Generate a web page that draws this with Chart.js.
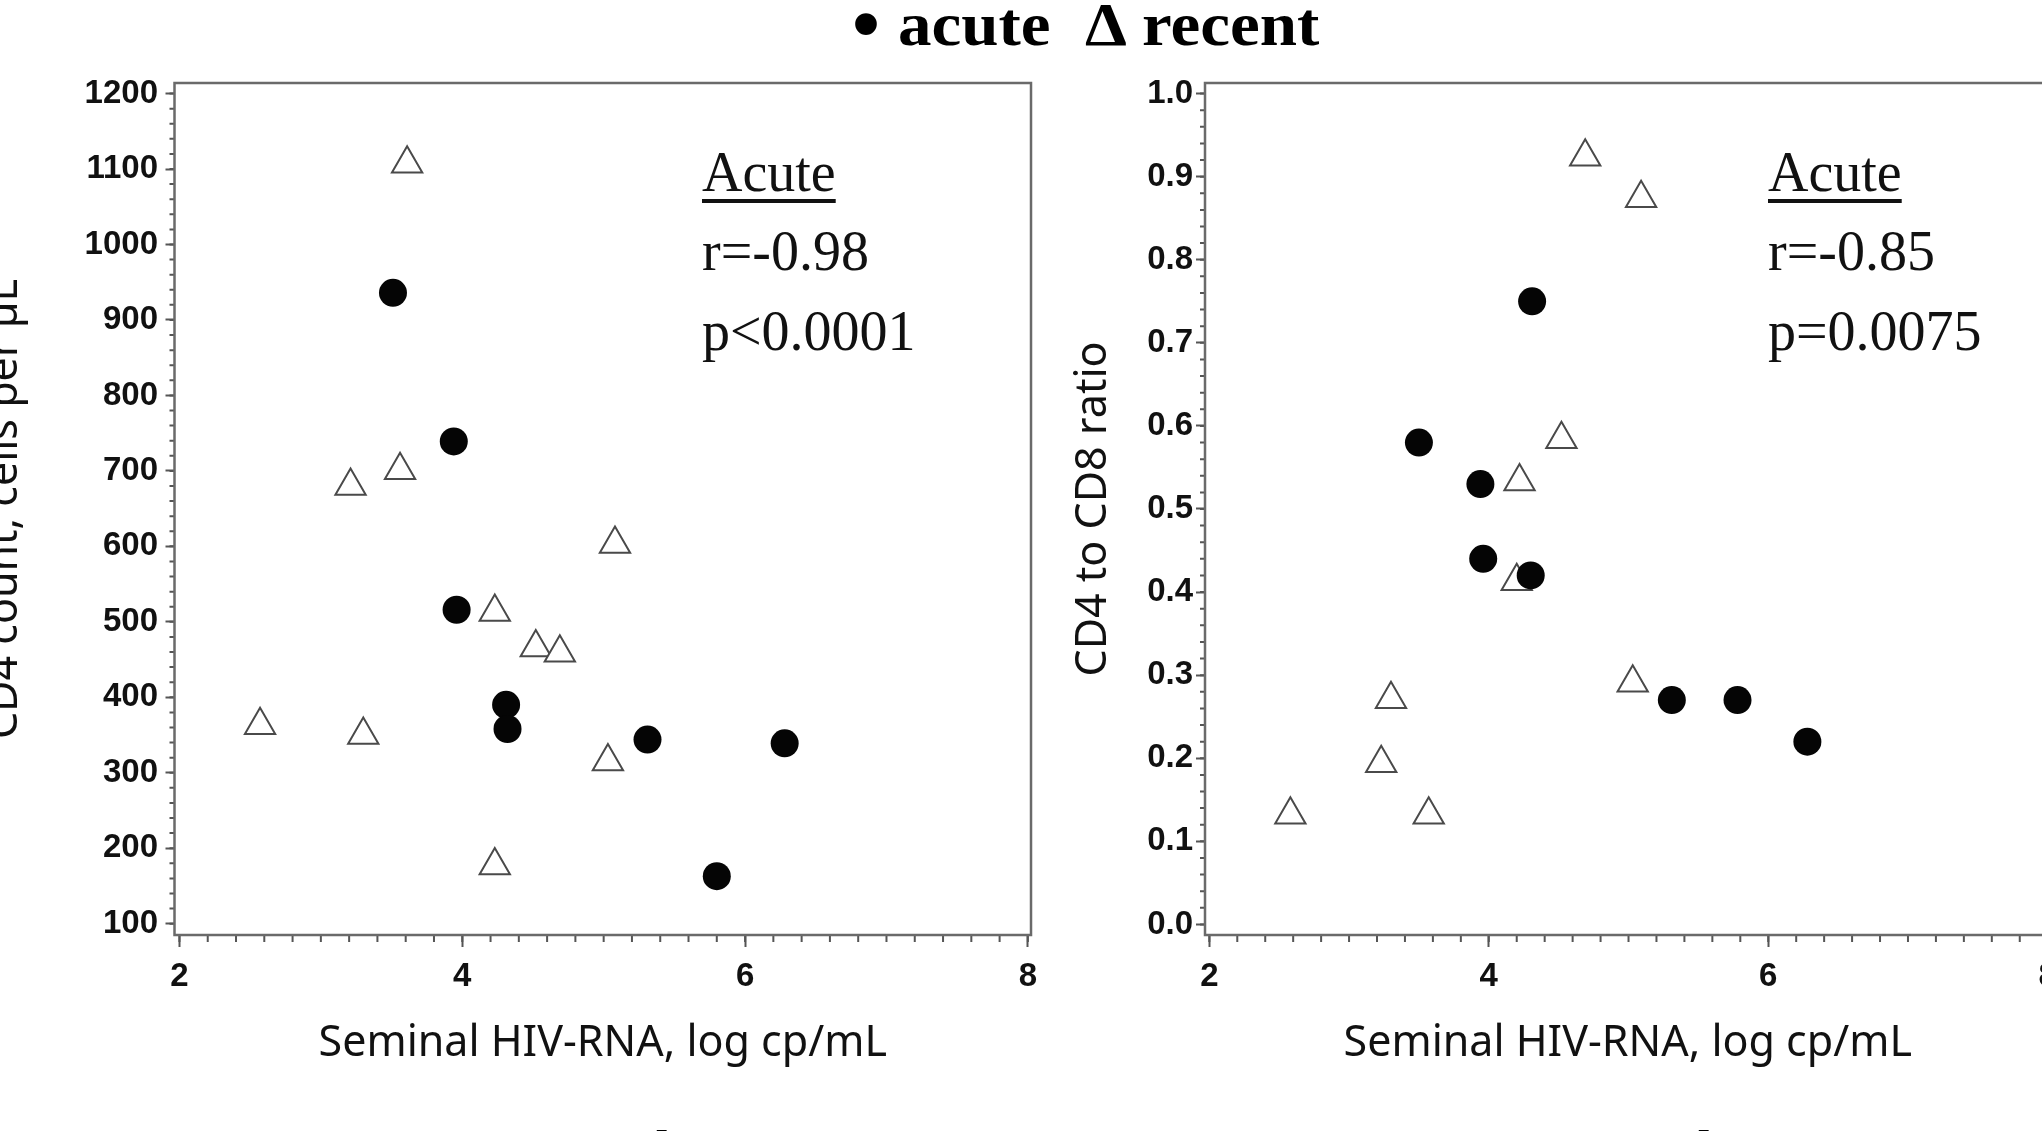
<!DOCTYPE html>
<html>
<head>
<meta charset="utf-8">
<script src="https://cdn.jsdelivr.net/npm/chart.js@4.4.1/dist/chart.umd.min.js"></script>
<style>
  html, body { margin: 0; padding: 0; background: #fff; overflow: hidden; }
  body { width: 2042px; height: 1131px; position: relative; }
  canvas { position: absolute; top: 0; }
  #cd4Chart { left: -17px; }
  #ratioChart { left: 1072px; }
</style>
</head>
<body>
<canvas id="cd4Chart" width="1360" height="1131"></canvas>
<canvas id="ratioChart" width="998" height="1131"></canvas>
<script>
// left panel: CD4 count vs seminal HIV-RNA
const hivAcute = [3.51, 3.94, 3.96, 4.31, 4.32, 5.31, 6.28, 5.80];
const cd4Acute = [936, 739, 516, 390, 358, 344, 339, 163];
const hivRecent = [3.61, 3.21, 3.56, 5.08, 4.23, 4.52, 4.69, 2.57, 3.30, 5.03, 4.23];
const cd4Recent = [1107, 680, 701, 603, 513, 466, 459, 363, 350, 315, 177];

// right panel: CD4/CD8 ratio vs seminal HIV-RNA
const hivAcuteR = [4.31, 3.50, 3.94, 3.96, 4.30, 5.31, 5.78, 6.28];
const ratioAcute = [0.75, 0.58, 0.53, 0.44, 0.42, 0.27, 0.27, 0.22];
const hivRecentR = [4.69, 5.09, 4.52, 4.22, 4.20, 5.03, 3.30, 3.23, 2.58, 3.57];
const ratioRecent = [0.924, 0.874, 0.584, 0.533, 0.413, 0.291, 0.271, 0.194, 0.132, 0.132];

// tick labels
const hivTicks = [2, 4, 6, 8];
const cd4Ticks = [100, 200, 300, 400, 500, 600, 700, 800, 900, 1000, 1100, 1200];
const ratioTicks = [0.0, 0.1, 0.2, 0.3, 0.4, 0.5, 0.6, 0.7, 0.8, 0.9, 1.0];

const noteCd4 = ['Acute', 'r=-0.98', 'p<0.0001'];
const noteRatio = ['Acute', 'r=-0.85', 'p=0.0075'];

const tickFont = { family: 'Liberation Sans', weight: 'bold', size: 33 };
const titleFont = { family: 'Noto Sans', size: 43, lineHeight: 1 };

const toPoints = (xs, ys) => xs.map((x, i) => ({ x: x, y: ys[i] }));

// minor ticks + plot frame
const axisDecor = {
  id: 'axisDecor',
  beforeDatasetsDraw(chart, args, opts) {
    const { ctx, chartArea: a } = chart;
    const xs = chart.scales.x, ys = chart.scales.y;
    ctx.save();
    ctx.strokeStyle = '#555';
    ctx.lineWidth = 2;
    ctx.beginPath();
    for (let i = Math.ceil(xs.min / opts.xMinor); i * opts.xMinor <= xs.max; i++) {
      const px = xs.getPixelForValue(i * opts.xMinor);
      ctx.moveTo(px, a.bottom);
      ctx.lineTo(px, a.bottom + 7);
    }
    for (let i = Math.ceil(ys.min / opts.yMinor); i * opts.yMinor <= ys.max; i++) {
      const py = ys.getPixelForValue(i * opts.yMinor);
      ctx.moveTo(a.left, py);
      ctx.lineTo(a.left - 5, py);
    }
    ctx.stroke();
    ctx.strokeStyle = '#6a6a6a';
    ctx.lineWidth = 2.5;
    ctx.strokeRect(a.left, a.top, a.right - a.left, a.bottom - a.top);
    ctx.restore();
  }
};

function drawKey(ctx, x, y) {
  ctx.fillStyle = '#000';
  ctx.textBaseline = 'alphabetic';
  ctx.textAlign = 'center';
  ctx.font = 'bold 80px "Liberation Serif"';
  ctx.fillText('\u2022', x, y + 6);
  ctx.textAlign = 'left';
  ctx.font = 'bold 62px "Liberation Serif"';
  [['acute', 32], ['\u0394', 219], ['recent', 276]].forEach(function (p) {
    ctx.save();
    ctx.translate(x + p[1], y);
    ctx.scale(1.08, 1);
    ctx.fillText(p[0], 0, 0);
    ctx.restore();
  });
}

// legend line(s) and the correlation note
const textDecor = {
  id: 'textDecor',
  afterDraw(chart, args, opts) {
    const ctx = chart.ctx;
    ctx.save();
    opts.keys.forEach(k => drawKey(ctx, k[0] - opts.left, k[1]));
    ctx.fillStyle = '#111';
    ctx.textAlign = 'left';
    ctx.textBaseline = 'alphabetic';
    ctx.font = '56px "Liberation Serif"';
    const nx = opts.noteX - opts.left;
    const base = [191, 270, 350];
    opts.note.forEach((t, i) => ctx.fillText(t, nx, base[i]));
    ctx.fillRect(nx, 199, ctx.measureText(opts.note[0]).width, 4);
    ctx.restore();
  }
};

function makeChart(id, cfg) {
  return new Chart(document.getElementById(id), {
    type: 'scatter',
    data: {
      datasets: [
        { label: 'acute', data: cfg.acute, pointStyle: 'circle', pointRadius: 14,
          backgroundColor: '#050505', borderColor: '#050505', borderWidth: 0, order: 0 },
        { label: 'recent', data: cfg.recent, pointStyle: 'triangle', pointRadius: 17.5,
          backgroundColor: '#fff', borderColor: '#4a4a4a', borderWidth: 2, order: 1 }
      ]
    },
    plugins: [axisDecor, textDecor],
    options: {
      responsive: false,
      animation: false,
      events: [],
      layout: { padding: cfg.padding },
      plugins: {
        legend: { display: false },
        tooltip: { enabled: false },
        axisDecor: { xMinor: 0.2, yMinor: cfg.yMinor },
        textDecor: cfg.text
      },
      scales: {
        x: {
          type: 'linear', position: 'bottom', bounds: 'data',
          min: cfg.xMin, max: cfg.xMax,
          afterBuildTicks: s => { s.ticks = hivTicks.map(v => ({ value: v })); },
          afterFit: s => { s.height = 130.5; },
          ticks: { font: tickFont, color: '#111', padding: 10, maxRotation: 0, autoSkip: false,
                   callback: v => String(v) },
          grid: { display: true, drawOnChartArea: false, drawTicks: true, tickLength: 12,
                  tickColor: '#555', tickWidth: 2 },
          border: { display: false },
          title: { display: true, text: 'Seminal HIV-RNA, log cp/mL', font: titleFont,
                   color: '#111', padding: 0 }
        },
        y: {
          type: 'linear', position: 'left', bounds: 'data',
          min: cfg.yMin, max: cfg.yMax,
          afterBuildTicks: s => { s.ticks = cfg.yTicks.map(v => ({ value: v })); },
          afterFit: s => { s.width = cfg.yWidth; },
          ticks: { font: tickFont, color: '#111', padding: cfg.yPad, autoSkip: false,
                   callback: cfg.yFormat },
          grid: { display: true, drawOnChartArea: false, drawTicks: true, tickLength: 9,
                  tickColor: '#555', tickWidth: 2 },
          border: { display: false },
          title: { display: true, text: cfg.yTitle, font: titleFont, color: '#111', padding: 0 }
        }
      }
    }
  });
}

makeChart('cd4Chart', {
  acute: toPoints(hivAcute, cd4Acute),
  recent: toPoints(hivRecent, cd4Recent),
  padding: { left: 0, top: 83, right: 312, bottom: 65.5 },
  xMin: 1.965, xMax: 8.022,
  yMin: 85, yMax: 1214, yTicks: cd4Ticks, yMinor: 20,
  yWidth: 191.5, yPad: 7.5,
  yFormat: v => String(v),
  yTitle: 'CD4 count, cells per \u00b5L',
  text: { left: -17, keys: [[866, 45], [422, 1170]], noteX: 702, note: noteCd4 }
});

makeChart('ratioChart', {
  acute: toPoints(hivAcuteR, ratioAcute),
  recent: toPoints(hivRecentR, ratioRecent),
  padding: { left: 0, top: 83, right: 14, bottom: 65.5 },
  xMin: 1.969, xMax: 8.02,
  yMin: -0.0127, yMax: 1.0127, yTicks: ratioTicks, yMinor: 0.02,
  yWidth: 133, yPad: 3,
  yFormat: v => (Math.abs(v) < 1e-9 ? 0 : v).toFixed(1),
  yTitle: 'CD4 to CD8 ratio',
  text: { left: 1072, keys: [[1464, 1170]], noteX: 1768, note: noteRatio }
});
</script>
</body>
</html>
